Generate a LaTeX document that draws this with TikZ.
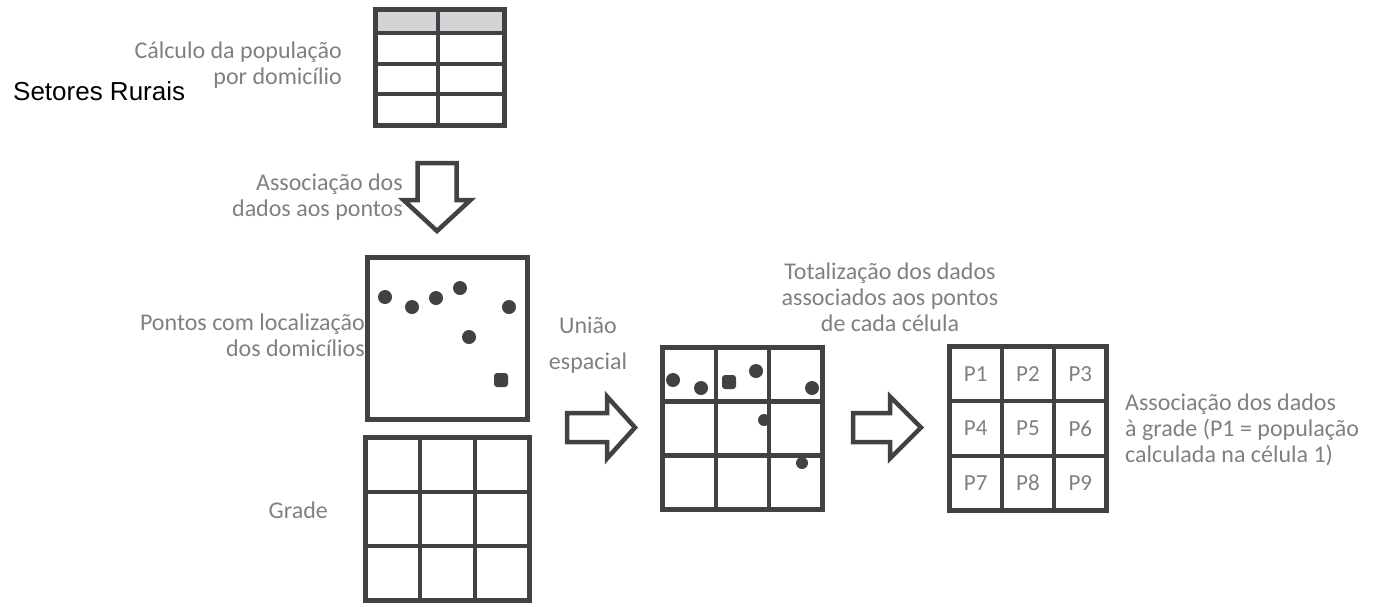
\documentclass[tikz,border=0pt]{standalone}
\usepackage{fontspec}
\setmainfont{Carlito}
\newfontfamily\arialfont{Liberation Sans}
\usetikzlibrary{backgrounds,calc,positioning}
\definecolor{linedark}{RGB}{64,66,69}
\definecolor{textgrey}{RGB}{128,128,128}
\definecolor{headgrey}{RGB}{210,212,214}
\tikzset{
  boxframe/.style={draw=linedark, line width=5pt, inner sep=0pt, outer sep=0pt},
  gridline/.style={draw=linedark, line width=4.5pt},
  dot/.style={fill=linedark, draw=none},
  greylabel/.style={text=textgrey, inner sep=0pt, font=\fontsize{24}{26}\selectfont},
  celltext/.style={text=textgrey, inner sep=0pt, font=\fontsize{23}{26}\selectfont},
  arrowline/.style={draw=linedark, line width=4.5pt, fill=white, line join=miter},
  pics/blockarrow/.style args={#1/#2/#3}{code={
    \draw[arrowline] (0,-#1) -- (#3,-#1) -- (#3,-#2) -- (68,0) -- (#3,#2) -- (#3,#1) -- (0,#1) -- cycle;}}
}
\begin{document}
\begin{tikzpicture}[x=1pt,y=-1pt]
  \useasboundingbox (0,0) rectangle (1382,606);

  % tabela dos setores
  \node[anchor=base west, inner sep=0pt, font=\arialfont\fontsize{26}{30}\selectfont] (setores) at (13,100) {Setores Rurais};
  \node[greylabel, align=right, anchor=east] (calculo) at (342,65) {Cálculo da população\\por domicílio};
  \node[boxframe, minimum width=129pt, minimum height=116pt] (tabela) at (440,67.5) {};
  \begin{scope}[on background layer]
    \fill[headgrey] (tabela.north west) rectangle (tabela.east |- 0,33);
  \end{scope}
  \foreach \y in {33,64,94}
    \draw[gridline] (tabela.west |- 0,\y) -- (tabela.east |- 0,\y);
  \draw[gridline] (tabela.north -| 438,0) -- (tabela.south -| 438,0);

  \node[greylabel, align=right, anchor=east] (associa) at (403,197) {Associação dos\\dados aos pontos};
  \pic[rotate=-90] at (437,163) {blockarrow=19.5/33.5/37};

  % pontos e grade
  \node[greylabel, align=right, anchor=east] (pontoslabel) at (365,335) {Pontos com localização\\dos domicílios};
  \node[boxframe, minimum width=160pt, minimum height=162pt] (pontos) at (447.5,338.5) {};
  \foreach \x/\y in {385/297,412/307,436/298,460/288,509/307,469/337}
    \fill[dot] (\x,\y) circle (7);
  \fill[dot, rounded corners=3pt] (494,373) rectangle (508,387);

  \node[greylabel, anchor=east] (gradelabel) at (328,510) {Grade};
  \node[boxframe, minimum width=164pt, minimum height=163pt] (grade) at (447.5,519) {};

  % uniao espacial
  \node[greylabel, align=center] (uniao) at (588,345) {União\\[10pt]espacial};
  \pic at (567,427.5) {blockarrow=14.5/31/40};
  \foreach \x/\y in {673/380,701/388,756/371,812/388}
    \fill[dot] (\x,\y) circle (7);
  \fill[dot] (764,420) circle (6);
  \fill[dot] (802,463) circle (6);
  \fill[dot, rounded corners=3pt] (722,375) rectangle (736,389);
  \node[boxframe, minimum width=160pt, minimum height=162pt] (juncao) at (742.5,428.5) {};

  % totalizacao
  \node[greylabel, align=center] (total) at (890,297) {Totalização dos dados\\associados aos pontos\\de cada célula};
  \pic at (853,427.5) {blockarrow=14.5/31/37};
  \node[boxframe, minimum width=157pt, minimum height=164pt] (resultado) at (1028,428.5) {};
  \foreach \r in {1,2,3}
    \foreach \c in {1,2,3} {
      \pgfmathtruncatemacro{\n}{(\r-1)*3+\c}
      \node[celltext] (p\n) at ({949.5+(\c-0.5)*157/3},{346.5+(\r-0.5)*164/3}) {P\n};
    }

  \foreach \g in {grade,juncao,resultado}
    \foreach \i in {1,2} {
      \draw[gridline] ($(\g.north west)!\i/3!(\g.north east)$) -- ($(\g.south west)!\i/3!(\g.south east)$);
      \draw[gridline] ($(\g.north west)!\i/3!(\g.south west)$) -- ($(\g.north east)!\i/3!(\g.south east)$);
    }

  \node[greylabel, align=left, anchor=west] (grelha) at (1125,430) {Associação dos dados\\à grade (P1 = população\\calculada na célula 1)};
\end{tikzpicture}
\end{document}
